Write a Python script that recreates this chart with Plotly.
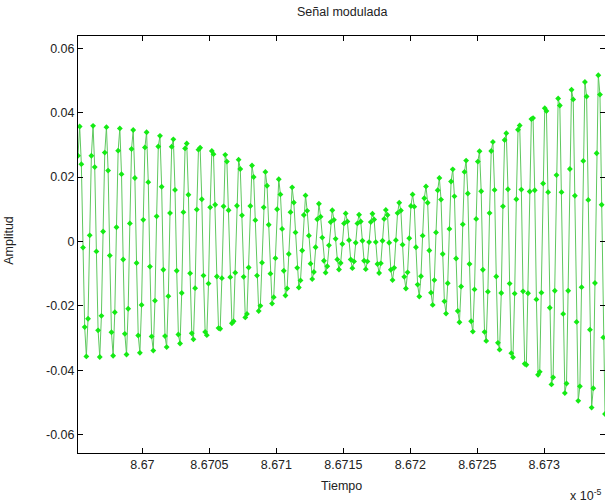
import plotly.graph_objects as go

# Muestras de la señal modulada (amplitud), tomadas a intervalos uniformes
t_inicio = 8.669519      # primer instante (x 10^-5 s)
t_paso = 1.2492e-5       # intervalo de muestreo (x 10^-5 s)

amplitud = [
    0.0266,
    0.0357, 0.0240, -0.0019, -0.0266, -0.0357, -0.0240, 0.0019, 0.0266,
    0.0359, 0.0231, -0.0031, -0.0276, -0.0359, -0.0231, 0.0031, 0.0276,
    0.0355, 0.0220, -0.0044, -0.0282, -0.0355, -0.0220, 0.0044, 0.0282,
    0.0351, 0.0209, -0.0056, -0.0287, -0.0351, -0.0209, 0.0056, 0.0287,
    0.0346, 0.0197, -0.0067, -0.0292, -0.0346, -0.0197, 0.0067, 0.0292,
    0.0339, 0.0184, -0.0078, -0.0295, -0.0339, -0.0184, 0.0078, 0.0295,
    0.0328, 0.0170, -0.0088, -0.0294, -0.0328, -0.0170, 0.0088, 0.0294,
    0.0317, 0.0160, -0.0091, -0.0289, -0.0317, -0.0160, 0.0091, 0.0289,
    0.0304, 0.0145, -0.0099, -0.0285, -0.0304, -0.0145, 0.0099, 0.0285,
    0.0291, 0.0131, -0.0106, -0.0281, -0.0291, -0.0131, 0.0106, 0.0281,
    0.0271, 0.0114, -0.0109, -0.0269, -0.0271, -0.0114, 0.0109, 0.0269,
    0.0248, 0.0097, -0.0111, -0.0254, -0.0248, -0.0097, 0.0111, 0.0254,
    0.0225, 0.0081, -0.0110, -0.0236, -0.0225, -0.0081, 0.0110, 0.0236,
    0.0200, 0.0066, -0.0106, -0.0216, -0.0200, -0.0066, 0.0106, 0.0216,
    0.0173, 0.0052, -0.0100, -0.0193, -0.0173, -0.0052, 0.0100, 0.0193,
    0.0146, 0.0039, -0.0091, -0.0168, -0.0146, -0.0039, 0.0091, 0.0168,
    0.0121, 0.0028, -0.0082, -0.0143, -0.0121, -0.0028, 0.0082, 0.0143,
    0.0095, 0.0018, -0.0069, -0.0117, -0.0095, -0.0018, 0.0069, 0.0117,
    0.0077, 0.0012, -0.0060, -0.0097, -0.0077, -0.0012, 0.0060, 0.0097,
    0.0067, 0.0008, -0.0056, -0.0087, -0.0067, -0.0008, 0.0056, 0.0087,
    0.0062, 0.0004, -0.0056, -0.0083, -0.0062, -0.0004, 0.0056, 0.0083,
    0.0062, 0.0002, -0.0060, -0.0086, -0.0062, -0.0002, 0.0060, 0.0086,
    0.0068, -0.0002, -0.0070, -0.0098, -0.0068, 0.0002, 0.0070, 0.0098,
    0.0082, -0.0004, -0.0088, -0.0120, -0.0082, 0.0004, 0.0088, 0.0120,
    0.0096, -0.0010, -0.0110, -0.0146, -0.0096, 0.0010, 0.0110, 0.0146,
    0.0108, -0.0018, -0.0134, -0.0171, -0.0108, 0.0018, 0.0134, 0.0171,
    0.0120, -0.0028, -0.0159, -0.0197, -0.0120, 0.0028, 0.0159, 0.0197,
    0.0130, -0.0039, -0.0186, -0.0224, -0.0130, 0.0039, 0.0186, 0.0224,
    0.0140, -0.0053, -0.0216, -0.0251, -0.0140, 0.0053, 0.0216, 0.0251,
    0.0149, -0.0070, -0.0248, -0.0280, -0.0149, 0.0070, 0.0248, 0.0280,
    0.0156, -0.0088, -0.0281, -0.0309, -0.0156, 0.0088, 0.0281, 0.0309,
    0.0160, -0.0109, -0.0315, -0.0336, -0.0160, 0.0109, 0.0315, 0.0336,
    0.0162, -0.0131, -0.0347, -0.0360, -0.0162, 0.0131, 0.0347, 0.0360,
    0.0161, -0.0155, -0.0380, -0.0383, -0.0161, 0.0155, 0.0380, 0.0383,
    0.0159, -0.0180, -0.0414, -0.0405, -0.0159, 0.0180, 0.0414, 0.0405,
    0.0153, -0.0206, -0.0444, -0.0422, -0.0153, 0.0206, 0.0444, 0.0422,
    0.0153, -0.0225, -0.0471, -0.0441, -0.0153, 0.0225, 0.0471, 0.0441,
    0.0142, -0.0250, -0.0495, -0.0450, -0.0142, 0.0250, 0.0495, 0.0450,
    0.0129, -0.0274, -0.0516, -0.0456, -0.0129, 0.0274, 0.0516, 0.0456,
    0.0114, -0.0298, -0.0536,
]

x_ticks = [8.67, 8.6705, 8.671, 8.6715, 8.672, 8.6725, 8.673]
x_tick_labels = ["8.67", "8.6705", "8.671", "8.6715", "8.672", "8.6725", "8.673"]
y_ticks = [-0.06, -0.04, -0.02, 0, 0.02, 0.04, 0.06]
y_tick_labels = ["-0.06", "-0.04", "-0.02", "0", "0.02", "0.04", "0.06"]

x_fin = t_inicio + t_paso * (len(amplitud) - 1)

FONT = "Liberation Sans"

fig = go.Figure()
fig.add_trace(go.Scatter(
    x0=t_inicio, dx=t_paso, y=amplitud,
    mode="lines+markers",
    line=dict(color="rgb(95,200,95)", width=1),
    marker=dict(symbol="diamond", size=4.5, color="rgb(20,235,20)",
                line=dict(width=0)),
    showlegend=False,
))

axis_common = dict(
    showline=True, linecolor="black", linewidth=1, mirror="ticks",
    ticks="inside", ticklen=5, tickcolor="black", tickwidth=1,
    showgrid=False, zeroline=False,
    tickfont=dict(family=FONT, size=12.5, color="#222222"),
)

fig.update_xaxes(range=[t_inicio, x_fin], tickvals=x_ticks,
                 ticktext=x_tick_labels, **axis_common)
fig.update_yaxes(range=[-0.0657, 0.0638], tickvals=y_ticks,
                 ticktext=y_tick_labels, **axis_common)

annot_font = dict(family=FONT, size=12.5, color="#222222")
fig.update_layout(
    width=605, height=504,
    margin=dict(l=78, r=0, t=36, b=51),
    paper_bgcolor="white", plot_bgcolor="white",
    annotations=[
        dict(text="Señal modulada", xref="paper", yref="paper",
             x=0.5, y=1.058, showarrow=False, font=annot_font,
             xanchor="center", yanchor="middle"),
        dict(text="Tiempo", xref="paper", yref="paper",
             x=0.5, y=-0.08, showarrow=False, font=annot_font,
             xanchor="center", yanchor="middle"),
        dict(text="Amplitud", xref="paper", yref="paper",
             x=-0.13, y=0.51, showarrow=False, font=annot_font,
             textangle=-90, xanchor="center", yanchor="middle"),
        dict(text="x 10<sup>-5</sup>", xref="paper", yref="paper",
             x=0.93, y=-0.1, showarrow=False, font=annot_font,
             xanchor="left", yanchor="middle"),
    ],
)

fig.write_html("out.html")
